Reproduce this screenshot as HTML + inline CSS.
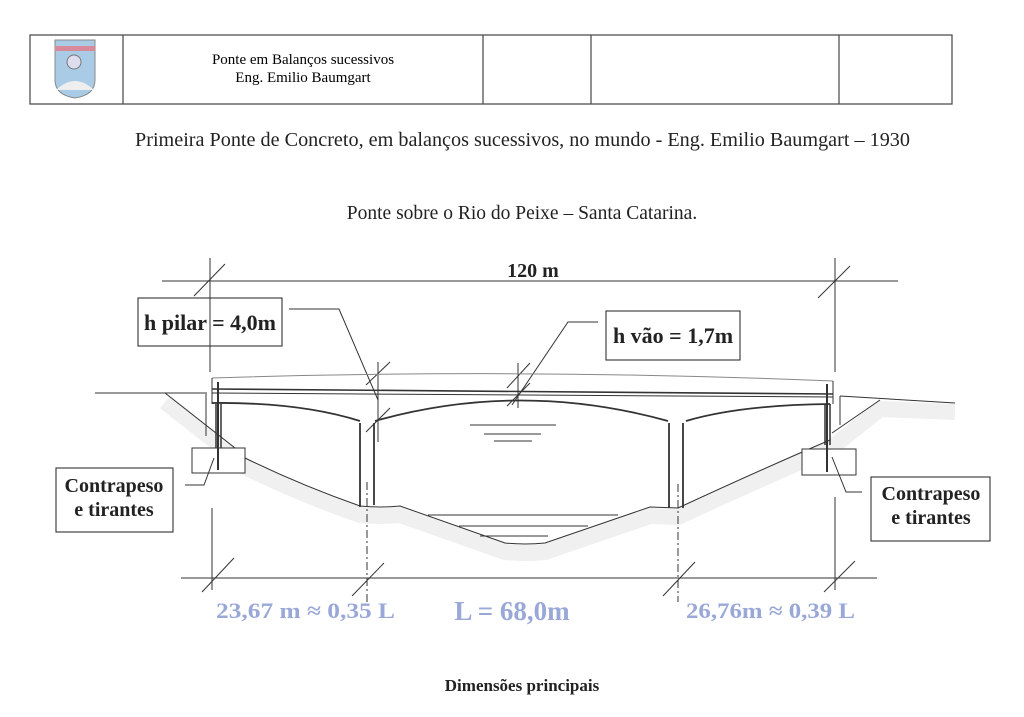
<!DOCTYPE html>
<html><head><meta charset="utf-8"><style>
html,body{margin:0;padding:0;background:#fff;}
svg{display:block;}
text{font-family:"Liberation Serif",serif;}
</style></head><body>
<svg width="1024" height="717" viewBox="0 0 1024 717" xmlns="http://www.w3.org/2000/svg">
<rect width="1024" height="717" fill="#fff"/>
<g stroke="#444" stroke-width="1.2" fill="none">
<rect x="30" y="35" width="922" height="69"/>
<line x1="123" y1="35" x2="123" y2="104"/>
<line x1="483" y1="35" x2="483" y2="104"/>
<line x1="591" y1="35" x2="591" y2="104"/>
<line x1="839" y1="35" x2="839" y2="104"/>
</g>
<path d="M55,40 H95 V80 Q95,95 75,98 Q55,95 55,80 Z" fill="#a9cbe6" stroke="#888"/>
<rect x="55" y="46" width="40" height="5" fill="#d88a9a"/>
<circle cx="74" cy="62" r="7" fill="#dde" stroke="#777"/>
<path d="M56,90 Q75,72 94,90" fill="#eee"/>
<text x="303" y="64" font-size="15" text-anchor="middle">Ponte em  Balanços sucessivos</text>
<text x="303" y="82" font-size="15" text-anchor="middle">Eng. Emilio Baumgart</text>
<text x="135" y="146" font-size="20.5" fill="#222" textLength="775" lengthAdjust="spacingAndGlyphs">Primeira Ponte de Concreto, em balanços sucessivos, no mundo - Eng. Emilio Baumgart – 1930</text>
<text x="522" y="219" font-size="19.5" text-anchor="middle" fill="#222">Ponte sobre o Rio do Peixe – Santa Catarina.</text>
<g stroke="#f0f0f0" stroke-width="16" fill="none" transform="translate(0,9)">
<path d="M165,393 L235,448 L245,458 Q300,485 360,506 Q380,508 400,506 L505,543 Q525,545 545,543 L650,507 L678,508 Q760,470 830,440 L880,400 L955,403"/>
</g>
<g stroke="#333" stroke-width="1" fill="none">
<line x1="162" y1="281" x2="898" y2="281"/>
<line x1="210" y1="258" x2="210" y2="372"/>
<line x1="835" y1="258" x2="835" y2="372"/>
<line x1="194" y1="296" x2="225" y2="264"/>
<line x1="818" y1="298" x2="850" y2="266"/>
<line x1="181" y1="578" x2="877" y2="578"/>
<line x1="212" y1="508" x2="212" y2="590"/>
<line x1="835" y1="497" x2="835" y2="590"/>
<line x1="202" y1="592" x2="234" y2="558"/>
<line x1="352" y1="596" x2="384" y2="563"/>
<line x1="663" y1="596" x2="695" y2="562"/>
<line x1="824" y1="592" x2="855" y2="561"/>
<line x1="367" y1="482" x2="367" y2="602" stroke-dasharray="8,3,2,3"/>
<line x1="678" y1="484" x2="678" y2="602" stroke-dasharray="8,3,2,3"/>
<polyline points="289,309 339,309 378,400"/>
<polyline points="598,322 568,322 512,405"/>
<line x1="366" y1="385" x2="390" y2="362"/>
<line x1="366" y1="432" x2="390" y2="408"/>
<line x1="378" y1="362" x2="378" y2="442"/>
<line x1="507" y1="388" x2="530" y2="363"/>
<line x1="507" y1="406" x2="530" y2="383"/>
<line x1="518" y1="363" x2="518" y2="408"/>
<path d="M212,378 Q520,368 833,381" stroke="#888"/>
<line x1="212" y1="378" x2="212" y2="404"/>
<line x1="833" y1="381" x2="833" y2="404"/>
<line x1="212" y1="389" x2="833" y2="394" stroke-width="1.6"/>
<line x1="212" y1="393" x2="833" y2="397"/>
<path d="M212,403 Q300,402 360,421" stroke-width="1.8"/>
<path d="M375,421 Q520,380 668,421" stroke-width="1.8"/>
<path d="M686,421 Q740,405 830,404" stroke-width="1.8"/>
<line x1="360" y1="423" x2="360" y2="507" stroke-width="1.8"/>
<line x1="374" y1="423" x2="374" y2="505" stroke-width="1.8"/>
<line x1="669" y1="423" x2="669" y2="508" stroke-width="1.8"/>
<line x1="683" y1="423" x2="683" y2="508" stroke-width="1.8"/>
<line x1="216" y1="404" x2="216" y2="460" stroke-width="1.5"/>
<line x1="218" y1="382" x2="218" y2="470" stroke-width="2"/>
<line x1="221" y1="404" x2="221" y2="460" stroke-width="1.5"/>
<line x1="206" y1="392" x2="206" y2="436"/>
<line x1="825" y1="404" x2="825" y2="445" stroke-width="1.5"/>
<line x1="827" y1="384" x2="827" y2="472" stroke-width="2"/>
<line x1="830" y1="404" x2="830" y2="445" stroke-width="1.5"/>
<line x1="840" y1="396" x2="840" y2="425"/>
<line x1="95" y1="393" x2="205" y2="393"/>
<line x1="165" y1="393" x2="235" y2="448"/>
<path d="M245,458 Q300,485 360,506 Q380,508 400,506 L505,543 Q525,545 545,543 L650,507 L678,508 Q760,470 830,440"/>
<path d="M840,396 L955,403"/>
<line x1="880" y1="400" x2="832" y2="433"/>
<line x1="470" y1="425" x2="556" y2="425"/>
<line x1="484" y1="434" x2="541" y2="434"/>
<line x1="494" y1="441" x2="532" y2="441"/>
<line x1="428" y1="515" x2="618" y2="515"/>
<line x1="459" y1="526" x2="588" y2="526"/>
<line x1="480" y1="536" x2="548" y2="536"/>
<rect x="192" y="448" width="53" height="25" fill="#fff"/>
<rect x="802" y="449" width="54" height="26" fill="#fff"/>
<line x1="218" y1="448" x2="218" y2="470" stroke-width="2"/>
<line x1="827" y1="449" x2="827" y2="472" stroke-width="2"/>
<polyline points="214,458 204,485 185,485"/>
<polyline points="832,457 846,492 862,492"/>
</g>
<g stroke="#333" stroke-width="1.1" fill="#fff">
<rect x="138" y="298" width="144" height="48"/>
<rect x="606" y="311" width="134" height="49"/>
<rect x="56" y="468" width="117" height="64"/>
<rect x="871" y="477" width="119" height="64"/>
</g>
<line x1="210" y1="298" x2="210" y2="346" stroke="#333"/>
<g font-weight="bold" fill="#222" text-anchor="middle">
<text x="533" y="277" font-size="20">120 m</text>
<text x="210" y="330" font-size="22">h pilar = 4,0m</text>
<text x="673" y="343" font-size="22">h vão = 1,7m</text>
<text x="114" y="492" font-size="20">Contrapeso</text>
<text x="114" y="516" font-size="20">e tirantes</text>
<text x="931" y="500" font-size="20">Contrapeso</text>
<text x="931" y="524" font-size="20">e tirantes</text>
<text x="522" y="691" font-size="17">Dimensões principais</text>
</g>
<g fill="#9aa8d8" font-weight="bold">
<text x="216" y="618" font-size="22" textLength="179" lengthAdjust="spacingAndGlyphs">23,67 m ≈ 0,35  L</text>
<text x="512" y="620" font-size="27" text-anchor="middle">L = 68,0m</text>
<text x="686" y="618" font-size="22" textLength="169" lengthAdjust="spacingAndGlyphs">26,76m ≈ 0,39 L</text>
</g>
</svg>
</body></html>
